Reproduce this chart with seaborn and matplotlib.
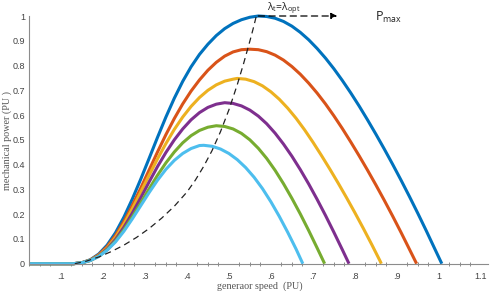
import matplotlib
matplotlib.use("Agg")
import matplotlib.pyplot as plt
import seaborn as sns
import pandas as pd

# ---------------- data ----------------
blue_x = [0.024, 0.13, 0.15, 0.17, 0.19, 0.21, 0.23, 0.25, 0.27, 0.29, 0.31, 0.33,
          0.35, 0.37, 0.39, 0.41, 0.43, 0.45, 0.47, 0.49, 0.51, 0.53, 0.55, 0.57,
          0.59, 0.61, 0.63, 0.65, 0.67, 0.69, 0.71, 0.73, 0.75, 0.77,
          0.79, 0.81, 0.83, 0.85, 0.87, 0.89, 0.91, 0.93, 0.95, 0.97, 0.99, 1.007]
blue_y = [0, 0, 0.004, 0.016, 0.039, 0.075, 0.125, 0.188, 0.261, 0.341, 0.425, 0.510,
          0.592, 0.668, 0.736, 0.795, 0.845, 0.886, 0.921, 0.949, 0.970, 0.985, 0.995, 1.0,
          0.998, 0.991, 0.978, 0.959, 0.934, 0.904, 0.869, 0.830, 0.787, 0.740,
          0.690, 0.637, 0.581, 0.523, 0.463, 0.401, 0.337, 0.271, 0.203, 0.133, 0.061, 0]

orange_x = [0.024, 0.13, 0.15, 0.17, 0.19, 0.21, 0.23, 0.25, 0.27, 0.29, 0.31, 0.33,
            0.35, 0.37, 0.39, 0.41, 0.43, 0.45, 0.47, 0.49, 0.51, 0.53, 0.55,
            0.57, 0.59, 0.61, 0.63, 0.65, 0.67, 0.69, 0.71, 0.73, 0.75,
            0.77, 0.79, 0.81, 0.83, 0.85, 0.87, 0.89, 0.91, 0.93, 0.947]
orange_y = [0, 0, 0.004, 0.015, 0.036, 0.069, 0.114, 0.170, 0.235, 0.305, 0.378, 0.451,
            0.521, 0.586, 0.645, 0.697, 0.742, 0.781, 0.813, 0.838, 0.855, 0.864, 0.866,
            0.864, 0.856, 0.842, 0.822, 0.796, 0.765, 0.729, 0.689, 0.645, 0.597,
            0.546, 0.492, 0.436, 0.378, 0.318, 0.256, 0.192, 0.126, 0.058, 0]

yellow_x = [0.024, 0.13, 0.15, 0.17, 0.19, 0.21, 0.23, 0.25, 0.27, 0.29, 0.31, 0.33,
            0.35, 0.37, 0.39, 0.41, 0.43, 0.45, 0.47, 0.49, 0.51, 0.52,
            0.54, 0.56, 0.58, 0.60, 0.62, 0.64, 0.66, 0.68, 0.70,
            0.72, 0.74, 0.76, 0.78, 0.80, 0.82, 0.84, 0.86, 0.863]
yellow_y = [0, 0, 0.004, 0.014, 0.033, 0.063, 0.106, 0.160, 0.222, 0.289, 0.357, 0.423,
            0.485, 0.542, 0.592, 0.635, 0.671, 0.700, 0.722, 0.737, 0.745, 0.748,
            0.745, 0.735, 0.718, 0.694, 0.664, 0.628, 0.587, 0.541, 0.491,
            0.438, 0.383, 0.326, 0.267, 0.206, 0.143, 0.078, 0.011, 0]

purple_x = [0.024, 0.13, 0.15, 0.17, 0.19, 0.21, 0.23, 0.25, 0.27, 0.29, 0.31, 0.33,
            0.35, 0.37, 0.39, 0.41, 0.43, 0.45, 0.47, 0.49,
            0.51, 0.53, 0.55, 0.57, 0.59, 0.61, 0.63, 0.65, 0.67, 0.69,
            0.71, 0.73, 0.75, 0.77, 0.786]
purple_y = [0, 0, 0.004, 0.013, 0.031, 0.059, 0.098, 0.147, 0.204, 0.266, 0.330, 0.392,
            0.449, 0.500, 0.544, 0.581, 0.610, 0.631, 0.644, 0.650,
            0.647, 0.637, 0.620, 0.596, 0.565, 0.527, 0.483, 0.434, 0.380, 0.322,
            0.260, 0.195, 0.127, 0.057, 0]

green_x = [0.024, 0.13, 0.15, 0.17, 0.19, 0.21, 0.23, 0.25, 0.27, 0.29, 0.31, 0.33,
           0.35, 0.37, 0.39, 0.41, 0.43, 0.45, 0.47,
           0.49, 0.51, 0.53, 0.55, 0.57, 0.59, 0.61, 0.63, 0.65, 0.67, 0.69, 0.71, 0.728]
green_y = [0, 0, 0.004, 0.013, 0.030, 0.056, 0.092, 0.137, 0.189, 0.245, 0.302, 0.357,
           0.407, 0.451, 0.488, 0.517, 0.538, 0.551, 0.557,
           0.554, 0.544, 0.526, 0.500, 0.466, 0.425, 0.377, 0.323, 0.264, 0.201, 0.134, 0.064, 0]

lblue_x = [0.024, 0.13, 0.15, 0.17, 0.19, 0.21, 0.23, 0.25, 0.27, 0.29, 0.31, 0.33,
           0.35, 0.37, 0.39, 0.41, 0.43, 0.44,
           0.46, 0.48, 0.50, 0.52, 0.54, 0.56, 0.58, 0.60, 0.62, 0.64, 0.66, 0.676]
lblue_y = [0, 0, 0.004, 0.013, 0.029, 0.054, 0.088, 0.131, 0.181, 0.234, 0.287, 0.337,
           0.381, 0.417, 0.445, 0.465, 0.477, 0.478,
           0.474, 0.463, 0.445, 0.420, 0.388, 0.349, 0.303, 0.250, 0.191, 0.127, 0.059, 0]

opt_x = [0.133, 0.16, 0.19, 0.22, 0.25, 0.28, 0.31, 0.34, 0.37, 0.40, 0.42, 0.44,
         0.46, 0.48, 0.50, 0.52, 0.535, 0.55, 0.558, 0.565]
opt_y = [0, 0.010, 0.027, 0.049, 0.075, 0.106, 0.142, 0.184, 0.232, 0.289, 0.337, 0.393,
         0.457, 0.533, 0.621, 0.723, 0.808, 0.899, 0.950, 0.998]

curve_names = ["c1", "c2", "c3", "c4", "c5", "c6"]
curve_colors = ["#0072BD", "#D95319", "#EDB120", "#7E2F8E", "#77AC30", "#4DBEEE"]

x_ticks = [0.1, 0.2, 0.3, 0.4, 0.5, 0.6, 0.7, 0.8, 0.9, 1.0, 1.1]
x_ticklabels = [".1", ".2", ".3", ".4", ".5", ".6", ".7", ".8", ".9", "1", "1.1"]
y_ticks = [0, 0.1, 0.2, 0.3, 0.4, 0.5, 0.6, 0.7, 0.8, 0.9, 1.0]
y_ticklabels = ["0", "0.1", "0.2", "0.3", "0.4", "0.5", "0.6", "0.7", "0.8", "0.9", "1"]

# ---------------- build long-form table ----------------
frames = []
for name, xs, ys in zip(curve_names,
                        [blue_x, orange_x, yellow_x, purple_x, green_x, lblue_x],
                        [blue_y, orange_y, yellow_y, purple_y, green_y, lblue_y]):
    assert len(xs) == len(ys), name
    frames.append(pd.DataFrame({"speed": xs, "power": ys, "curve": name}))
df = pd.concat(frames, ignore_index=True)
df_opt = pd.DataFrame({"speed": opt_x, "power": opt_y})

sns.set_theme(style="white")
plt.rcParams["font.family"] = ["Liberation Sans", "DejaVu Sans"]
plt.rcParams["mathtext.default"] = "regular"

fig = plt.figure(figsize=(4.92, 2.91), dpi=100)
ax = fig.add_axes([29 / 492, 1 - 263.7 / 291, (488 - 29) / 492, (263.7 - 16) / 291])

sns.lineplot(data=df, x="speed", y="power", hue="curve", hue_order=curve_names,
             palette=curve_colors, sort=False, estimator=None, legend=False,
             linewidth=2.2, ax=ax)
for ln in ax.lines:
    ln.set_clip_on(False)
    ln.set_solid_capstyle("butt")
    ln.set_solid_joinstyle("round")

sns.lineplot(data=df_opt, x="speed", y="power", sort=False, estimator=None,
             color="#222222", linewidth=0.9, ax=ax)
ax.lines[-1].set_dashes([5, 3.5])
ax.lines[-1].set_clip_on(False)

ax.set_xlim(0.024, 1.117)
ax.set_ylim(0, 1)

axis_gray = "#8c8c8c"
for s in ["top", "right"]:
    ax.spines[s].set_visible(False)
for s in ["left", "bottom"]:
    ax.spines[s].set_color(axis_gray)
    ax.spines[s].set_linewidth(0.8)

ax.set_xticks(x_ticks)
ax.set_xticklabels(x_ticklabels)
ax.set_xticks([t / 1000 for t in range(25, 1117, 25)], minor=True)
ax.set_yticks(y_ticks)
ax.set_yticklabels(y_ticklabels)
ax.tick_params(axis="both", which="major", direction="in", length=4, width=0.8,
               color=axis_gray, labelsize=6.5, labelcolor="#444444")
ax.tick_params(axis="x", which="major", pad=6)
ax.tick_params(axis="y", which="major", pad=3)
ax.tick_params(axis="x", which="minor", direction="inout", length=3, width=0.7,
               color=axis_gray, bottom=True)
ax.set_xlabel("")
ax.set_ylabel("")

fig.text(259.5 / 492, 1 - 281.5 / 291, "generaor speed  (PU)", ha="center", va="top",
         fontsize=7.3, family="Liberation Serif", color="#555555")
fig.text(7.5 / 492, 1 - 140 / 291, "mechanical power (PU )", ha="center", va="center",
         rotation=90, fontsize=7.3, family="Liberation Serif", color="#555555")

# annotations
ax.annotate("", xy=(0.758, 1.0), xytext=(0.57, 1.0), annotation_clip=False,
            arrowprops=dict(arrowstyle="-|>", linestyle=(0, (5, 3.5)), color="black",
                            lw=0.9, mutation_scale=9, shrinkA=0, shrinkB=0))
ax.text(0.59, 1.024, r"$\lambda_t$=$\lambda_{opt}$", fontsize=7.5, family="Open Sans",
        color="#222222", ha="left", va="baseline", clip_on=False)
ax.text(0.848, 0.981, r"P$_{max}$", fontsize=9, family="Open Sans",
        color="#222222", ha="left", va="baseline", clip_on=False)

fig.savefig("out.png", dpi=100)
